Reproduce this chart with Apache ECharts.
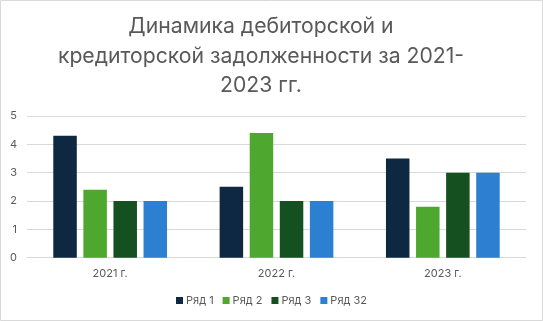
<!DOCTYPE html>
<html><head><meta charset="utf-8">
<script src="https://cdn.jsdelivr.net/npm/echarts@6/dist/echarts.min.js"></script>
<style>html,body{margin:0;padding:0;background:#fff}#c{width:543px;height:321px}</style>
</head><body><div id="c"></div>
<script>
const categories = ['2021 г.', '2022 г.', '2023 г.'];
const seriesNames = ['Ряд 1', 'Ряд 2', 'Ряд 3', 'Ряд 32'];
const ryad1 = [4.3, 2.5, 3.5];
const ryad2 = [2.4, 4.4, 1.8];
const ryad3 = [2, 2, 3];
const ryad32 = [2, 2, 3];
const yTicks = [0, 1, 2, 3, 4, 5];
const colors = ['#0e2841', '#4ea72e', '#145020', '#2d7fd2'];
const titleText = 'Динамика дебиторской и\nкредиторской задолженности за 2021-\n2023 гг.';

const chart = echarts.init(document.getElementById('c'));
const font = 'Inter, "Noto Sans", sans-serif';
const data = [ryad1, ryad2, ryad3, ryad32];
chart.setOption({
  animation: false,
  color: colors,
  textStyle: {fontFamily: font},
  graphic: [
    {type: 'rect', shape: {x: 0.5, y: 0.5, width: 542, height: 320}, style: {fill: 'none', stroke: '#d9d9d9', lineWidth: 1}, silent: true},
    {type: 'text', x: 261, y: 12, style: {text: titleText, align: 'center', verticalAlign: 'top', fontFamily: font, fontSize: 21.2, lineHeight: 29.5, fill: '#595959'}, silent: true}
  ],
  legend: {
    data: seriesNames, bottom: 10, left: 'center', itemWidth: 7, itemHeight: 7, itemGap: 9,
    icon: 'rect',
    textStyle: {fontFamily: font, fontSize: 11, color: '#595959', padding: [0, 0, 0, -2]}
  },
  grid: {left: 27, right: 17, top: 116, bottom: 63.3},
  xAxis: {
    type: 'category', data: categories,
    axisLine: {lineStyle: {color: '#d9d9d9', width: 1}},
    axisTick: {show: false},
    axisLabel: {fontSize: 11, color: '#595959', margin: 10}
  },
  yAxis: {
    type: 'value', min: yTicks[0], max: yTicks[yTicks.length - 1], interval: 1,
    axisLine: {show: false}, axisTick: {show: false},
    splitLine: {lineStyle: {color: '#d9d9d9', width: 1}},
    axisLabel: {fontSize: 11, color: '#595959', margin: 10}
  },
  series: seriesNames.map((n, i) => ({
    name: n, type: 'bar', data: data[i], barWidth: 23.5, barGap: '28%',
    itemStyle: {color: colors[i]}
  }))
});
</script></body></html>
